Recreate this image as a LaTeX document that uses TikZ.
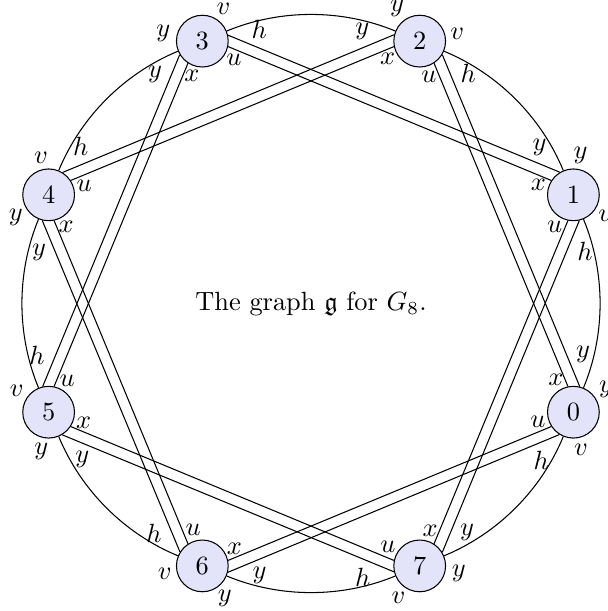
\documentclass[tikz,border=0pt]{standalone}
\usepackage{amsmath,amssymb}
\usetikzlibrary{calc}
\definecolor{vtxfill}{rgb}{0.89,0.89,0.98}

\begin{document}
\begin{tikzpicture}[
    vtx/.style={draw,circle,fill=vtxfill,minimum size=6.9mm,inner sep=0pt},
    lbl/.style={inner sep=0pt},
    rim/.style={bend left=22.5,looseness=.88}]
  \useasboundingbox (-4.147,-4.1) rectangle (3.96,4.047);
  \node (title) at (0,0) {The graph $\mathfrak{g}$ for $G_8$.};
  \foreach \k in {0,...,7}
    \node[vtx] (n\k) at (45*\k-22.5:3.787) {$\k$};
  \foreach \k in {0,...,7}{
    \pgfmathsetmacro{\a}{45*\k-22.5}
    \pgfmathtruncatemacro{\j}{mod(\k+1,8)}
    \pgfmathtruncatemacro{\m}{mod(\k+2,8)}
    \pgfmathsetmacro{\ao}{\a+99}\pgfmathsetmacro{\ai}{\a+124.5}
    \pgfmathsetmacro{\bo}{\a-9}\pgfmathsetmacro{\bi}{\a-34.5}
    % rim arc from k+1 back to k
    \draw (n\j) to[rim] (n\k);
    % two chords from k to k+2
    \draw (n\k.\ao) -- (n\m.\bo);
    \draw (n\k.\ai) -- (n\m.\bi);
    % end labels at node k
    \node[lbl] (ry\k) at ($(n\k)+(\a+57:0.53)$) {$y$};
    \node[lbl] (rv\k) at ($(n\k)+(\a-56:0.51)$) {$v$};
    \node[lbl] (cy\k) at ($(n\k)+(\a+103:0.775)$) {$y$};
    \node[lbl] (cx\k) at ($(n\k)+(\a+141:0.487)$) {$x$};
    \node[lbl] (ch\k) at ($(n\k)+(\a-101:0.775)$) {$h$};
    \node[lbl] (cu\k) at ($(n\k)+(\a-143:0.49)$) {$u$};
  }
\end{tikzpicture}
\end{document}
